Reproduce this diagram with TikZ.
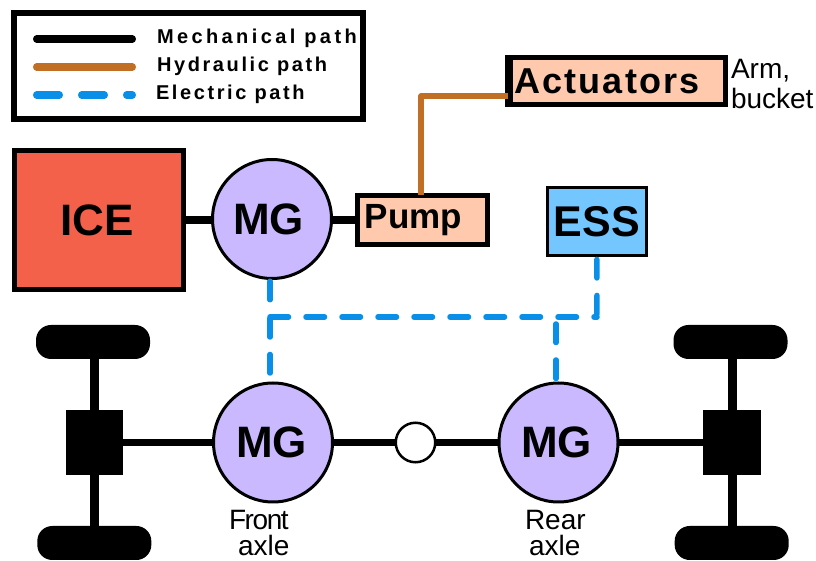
\documentclass[tikz,border=0pt]{standalone}
\usepackage{fontspec}
\setmainfont{Liberation Sans}
\definecolor{icered}{HTML}{F4614A}
\definecolor{mgviolet}{HTML}{CBB9FF}
\definecolor{pumppeach}{HTML}{FFC9AE}
\definecolor{essblue}{HTML}{73C6FF}
\definecolor{elecblue}{HTML}{0A8FE8}
\definecolor{hydrbrown}{HTML}{C06F25}
\newcommand{\fsize}[1]{\fontsize{#1bp}{#1bp}\selectfont}
\tikzset{
  box/.style={draw=black,rectangle,inner sep=0pt,outer sep=0pt,line width=5bp,font=\fsize{44}\bfseries},
  mgnode/.style={draw=black,circle,fill=mgviolet,inner sep=0pt,outer sep=0pt,minimum size=119bp,line width=3bp,font=\fsize{44}\bfseries},
  wheel/.style={fill=black,rectangle,rounded corners=15bp,inner sep=0pt,outer sep=0pt,minimum width=114bp,minimum height=34bp},
  diff/.style={fill=black,rectangle,inner sep=0pt,outer sep=0pt,minimum width=57.5bp,minimum height=65bp},
  note/.style={inner sep=0pt,outer sep=0pt,align=left,font=\fsize{28}},
  legendtext/.style={inner sep=0pt,outer sep=0pt,anchor=west,font=\fsize{20}\bfseries\addfontfeatures{LetterSpace=13}},
  mech/.style={black,line width=7.5bp},
  hydr/.style={hydrbrown,line width=5.5bp,line join=round},
  elec/.style={elecblue,line width=5.5bp,line cap=round,dash pattern=on 18.5bp off 17.5bp},
}
\begin{document}
\begin{tikzpicture}
\useasboundingbox (0bp,0bp) rectangle (816bp,561bp);
%% legend
\node (node_legend) at (188.5bp,495bp) [box,line width=5.5bp,minimum width=349bp,minimum height=106bp] {};
  \coordinate (leg_a1) at (36.75bp,522bp);
  \coordinate (leg_a2) at (132.25bp,522bp);
  \coordinate (leg_b1) at (36.75bp,494bp);
  \coordinate (leg_b2) at (132.25bp,494bp);
  \coordinate (leg_c1) at (36.75bp,466bp);
  \coordinate (leg_c2) at (132.25bp,466bp);
  \draw [black,line width=7.5bp,line cap=round] (leg_a1) -- (leg_a2);
  \draw [hydrbrown,line width=7.5bp,line cap=round] (leg_b1) -- (leg_b2);
  \draw [elecblue,line width=7.5bp,line cap=round,dash pattern=on 22.5bp off 22.5bp] (leg_c1) -- (leg_c2);
  \node (text_mech) at (157bp,523bp) [legendtext,font=\fsize{20}\bfseries\addfontfeatures{LetterSpace=17}] {Mechanical path};
  \node (text_hydr) at (157bp,495bp) [legendtext] {Hydraulic path};
  \node (text_elec) at (156bp,467bp) [legendtext] {Electric path};
%% upper row
\node (node_ice) at (98.7bp,341bp) [box,fill=icered,minimum width=169bp,minimum height=139.5bp] {ICE\hspace*{4bp}};
  \node (node_mg_1) at (272bp,342bp) [mgnode] {MG\hspace*{7bp}};
  \node (node_pump) at (422.3bp,341bp) [box,fill=pumppeach,minimum width=129.5bp,minimum height=49.6bp,font=\fsize{35}\bfseries] {Pump\hspace*{18bp}};
  \node (node_actuators) at (616.5bp,479.75bp) [box,fill=pumppeach,minimum width=218bp,minimum height=47.5bp,font=\fsize{36}\bfseries\addfontfeatures{LetterSpace=6}] {Actuators\hspace*{19bp}};
  \node (node_ess) at (596.8bp,339.7bp) [box,line width=3bp,fill=essblue,minimum width=99.3bp,minimum height=67.7bp,font=\fsize{43}\bfseries] {ESS};
  \node (text_arm) at (731bp,477bp) [note,anchor=west] {Arm,\\[2bp]bucket};
%% lower row
\node (node_mg_2) at (273bp,118.5bp) [mgnode] {MG\hspace*{3bp}};
  \node (node_mg_3) at (558.5bp,118.5bp) [mgnode] {MG\hspace*{4bp}};
  \node (node_ball) at (415.5bp,118.5bp) [draw=black,circle,fill=white,inner sep=0pt,outer sep=0pt,minimum size=39.5bp,line width=2.5bp] {};
  \node (node_diff_1) at (94.5bp,118.5bp) [diff] {};
  \node (node_diff_2) at (732bp,118.5bp) [diff] {};
  \node (node_wheel_1) at (93bp,219bp) [wheel] {};
  \node (node_wheel_2) at (94.3bp,18bp) [wheel] {};
  \node (node_wheel_3) at (730.5bp,219bp) [wheel] {};
  \node (node_wheel_4) at (731.7bp,18bp) [wheel] {};
  \node (text_front) at (229bp,5bp) [note,anchor=south west] {{\addfontfeatures{LetterSpace=-5}Front}\\[-2bp]\hspace*{9bp}axle};
  \node (text_rear) at (525bp,5.5bp) [note,anchor=south west] {Rear\\[-2bp]\hspace*{4bp}axle};
%% mechanical
\draw [mech] (node_ice.east) -- (node_ice.east -| node_mg_1.west);
  \draw [mech] (node_pump.west -| node_mg_1.east) -- (node_pump.west);
  \draw [mech] (node_diff_1.east) -- (node_mg_2.west);
  \draw [mech] (node_mg_2.east) -- (node_ball.west);
  \draw [mech] (node_ball.east) -- (node_mg_3.west);
  \draw [mech] (node_mg_3.east) -- (node_diff_2.west);
  \draw [black,line width=9bp] (node_wheel_1 -| node_diff_1) -- (node_wheel_2 -| node_diff_1);
  \draw [black,line width=9bp] (node_wheel_3 -| node_diff_2) -- (node_wheel_4 -| node_diff_2);
%% hydraulic
\draw [hydr] ([yshift=-14.75bp]node_actuators.west) -| ([xshift=-1.3bp]node_pump.north);
  \draw [black,line width=3bp] ([xshift=4bp]node_actuators.south west) -- ([xshift=4bp]node_actuators.north west);
%% electric
\coordinate (elec_left) at (270bp,244bp);
  \coordinate (elec_rear) at (556bp,244bp);
  \coordinate (elec_right) at (597bp,244bp);
  \draw [elec] (elec_left) -- (elec_right);
  \draw [elec,shorten <=2.75bp] ([xshift=-2bp]node_mg_1.south) -- (elec_left);
  \draw [elec,shorten <=10bp] ([xshift=-3bp]node_mg_2.north) -- (elec_left);
  \draw [elec,shorten <=4.5bp] ([xshift=-2.5bp]node_mg_3.north) -- (elec_rear);
  \draw [elec,shorten <=4.3bp] (node_ess.south) -- (elec_right);
%
\end{tikzpicture}
\end{document}
